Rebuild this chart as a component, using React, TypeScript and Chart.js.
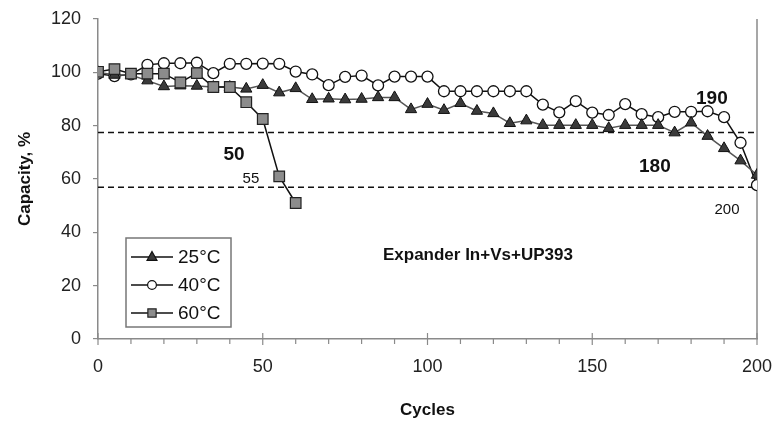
import React, { useEffect, useRef } from "react";
import { Chart, registerables } from "chart.js";

Chart.register(...registerables);

const cycles = [0, 5, 10, 15, 20, 25, 30, 35, 40, 45, 50, 55, 60, 65, 70, 75, 80, 85, 90, 95, 100, 105, 110, 115, 120, 125, 130, 135, 140, 145, 150, 155, 160, 165, 170, 175, 180, 185, 190, 195, 200];
const cap25 = [100, 99, 99, 96.9, 94.7, 95, 94.9, 94.5, 94.5, 93.8, 95.2, 92.4, 94, 89.9, 90.1, 89.8, 90, 90.6, 90.6, 86.1, 88.1, 85.8, 88.4, 85.5, 84.6, 80.9, 81.9, 80.2, 80.2, 80.2, 80.2, 79, 80.2, 80.2, 80.2, 77.4, 81.1, 76.1, 71.5, 66.9, 61.5];
const cap40 = [99.5, 98.6, 99.2, 102.8, 103.4, 103.4, 103.6, 99.7, 103.2, 103.2, 103.3, 103.2, 100.3, 99.2, 95.2, 98.3, 98.8, 95.1, 98.4, 98.4, 98.4, 92.9, 92.9, 92.9, 92.9, 92.9, 92.9, 87.9, 85, 89.2, 84.9, 84, 88.1, 84.3, 83.2, 85.2, 85.2, 85.4, 83.2, 73.6, 57.7];
const cycles60 = [0, 5, 10, 15, 20, 25, 30, 35, 40, 45, 50, 55, 60];
const cap60 = [100.2, 101.2, 99.5, 99.5, 99.5, 96.2, 99.7, 94.5, 94.5, 88.8, 82.5, 61, 51];
const thresholds = [77.4, 56.9];
const seriesLabels = ["25°C", "40°C", "60°C"];
const xTickLabels = [0, 50, 100, 150, 200];
const yTickLabels = [0, 20, 40, 60, 80, 100, 120];
const annotations = [
  { text: "50", x: 41.3, y: 69, bold: true, size: 19 },
  { text: "55", x: 46.4, y: 60, bold: false, size: 15 },
  { text: "190", x: 186.3, y: 90, bold: true, size: 19 },
  { text: "180", x: 169, y: 64.5, bold: true, size: 19 },
  { text: "200", x: 190.9, y: 48.4, bold: false, size: 15 },
  { text: "Expander In+Vs+UP393", x: 115.3, y: 31.5, bold: true, size: 17 },
];

const FONT = "'Liberation Sans', Arial, Helvetica, sans-serif";
const AXIS = "#8a8a8a";

const toXY = (xs: number[], ys: number[]) => xs.map((x, i) => ({ x, y: ys[i] }));

function drawMarker(ctx: CanvasRenderingContext2D, kind: string, x: number, y: number, r: number) {
  ctx.save();
  ctx.beginPath();
  if (kind === "tri") {
    ctx.fillStyle = "#3a3a3a";
    ctx.strokeStyle = "#111";
    ctx.moveTo(x, y - r);
    ctx.lineTo(x + r * 0.9, y + r * 0.6);
    ctx.lineTo(x - r * 0.9, y + r * 0.6);
    ctx.closePath();
  } else if (kind === "circ") {
    ctx.fillStyle = "#fff";
    ctx.strokeStyle = "#111";
    ctx.arc(x, y, r * 0.8, 0, Math.PI * 2);
  } else {
    ctx.fillStyle = "#8c8c8c";
    ctx.strokeStyle = "#222";
    ctx.rect(x - r * 0.75, y - r * 0.75, r * 1.5, r * 1.5);
  }
  ctx.lineWidth = 1.2;
  ctx.fill();
  ctx.stroke();
  ctx.restore();
}

const decorPlugin = {
  id: "decor",
  beforeDatasetsDraw(chart: any) {
    const { ctx, chartArea, scales } = chart;
    const xs = scales.x;
    ctx.save();
    ctx.strokeStyle = AXIS;
    ctx.lineWidth = 1.5;
    ctx.beginPath();
    ctx.moveTo(chartArea.right, chartArea.top);
    ctx.lineTo(chartArea.right, chartArea.bottom);
    ctx.stroke();
    ctx.lineWidth = 1.2;
    for (let c = 0; c <= 200; c += 10) {
      const px = xs.getPixelForValue(c);
      const major = c % 50 === 0;
      ctx.beginPath();
      ctx.moveTo(px, chartArea.bottom - (major ? 6 : 0));
      ctx.lineTo(px, chartArea.bottom + (major ? 6 : 5));
      ctx.stroke();
    }
    ctx.restore();
  },
  afterDatasetsDraw(chart: any) {
    const { ctx, scales } = chart;
    const xs = scales.x;
    const ys = scales.y;
    ctx.save();
    ctx.fillStyle = "#111";
    ctx.textAlign = "center";
    ctx.textBaseline = "middle";
    for (const a of annotations) {
      ctx.font = `${a.bold ? "bold " : ""}${a.size}px ${FONT}`;
      ctx.fillText(a.text, xs.getPixelForValue(a.x), ys.getPixelForValue(a.y));
    }
    const bx = 126, by = 238, bw = 105, bh = 89;
    ctx.fillStyle = "#fff";
    ctx.fillRect(bx, by, bw, bh);
    ctx.strokeStyle = "#777";
    ctx.lineWidth = 1.5;
    ctx.strokeRect(bx, by, bw, bh);
    const kinds = ["tri", "circ", "sq"];
    const rowsY = [257, 285, 313];
    ctx.textAlign = "left";
    ctx.font = `19px ${FONT}`;
    kinds.forEach((k, i) => {
      const yy = rowsY[i];
      ctx.strokeStyle = "#111";
      ctx.lineWidth = 1.5;
      ctx.beginPath();
      ctx.moveTo(131, yy);
      ctx.lineTo(173, yy);
      ctx.stroke();
      drawMarker(ctx, k, 152, yy, 5.5);
      ctx.fillStyle = "#111";
      ctx.fillText(seriesLabels[i], 178, yy + 1);
    });
    ctx.restore();
  },
};

export default function App() {
  const ref = useRef<HTMLCanvasElement>(null);
  useEffect(() => {
    if (!ref.current) return;
    const chart = new Chart(ref.current, {
      type: "line",
      data: {
        datasets: [
          {
            label: seriesLabels[2],
            data: toXY(cycles60, cap60),
            borderColor: "#111",
            borderWidth: 1.5,
            pointStyle: "rect",
            pointRadius: 7.5,
            pointBackgroundColor: "#8c8c8c",
            pointBorderColor: "#222",
            pointBorderWidth: 1.2,
            tension: 0,
            order: 0,
          },
          {
            label: seriesLabels[0],
            data: toXY(cycles, cap25),
            borderColor: "#555",
            borderWidth: 1.5,
            pointStyle: "triangle",
            pointRadius: 6.5,
            pointBackgroundColor: "#3a3a3a",
            pointBorderColor: "#111",
            pointBorderWidth: 1,
            tension: 0,
            order: 1,
          },
          {
            label: seriesLabels[1],
            data: toXY(cycles, cap40),
            borderColor: "#111",
            borderWidth: 1.5,
            pointStyle: "circle",
            pointRadius: 5.5,
            pointBackgroundColor: "#fff",
            pointBorderColor: "#111",
            pointBorderWidth: 1.3,
            tension: 0,
            order: 2,
          },
          ...thresholds.map((t, i) => ({
            label: "t" + i,
            data: [{ x: 0, y: t }, { x: 200, y: t }],
            borderColor: "#111",
            borderWidth: 1.5,
            borderDash: [6, 4],
            pointRadius: 0,
            order: 3,
          })),
        ],
      },
      options: {
        responsive: false,
        animation: false,
        events: [],
        layout: { padding: { top: 19, right: 16, left: 0, bottom: 0 } },
        plugins: { legend: { display: false }, tooltip: { enabled: false } },
        scales: {
          x: {
            type: "linear",
            min: 0,
            max: 200,
            afterBuildTicks: (s: any) => { s.ticks = xTickLabels.map((v) => ({ value: v })); },
            afterFit: (s: any) => { s.height = 87; s.paddingLeft = 0; s.paddingRight = 0; },
            grid: { display: false, drawTicks: true, tickLength: 6 },
            border: { display: true, color: AXIS, width: 1.5 },
            ticks: { font: { family: FONT, size: 18 }, color: "#222", padding: 11, maxRotation: 0 },
            title: { display: true, text: "Cycles", font: { family: FONT, size: 17, weight: "bold" }, color: "#111", padding: { top: 0, bottom: 5 } },
          },
          y: {
            min: 0,
            max: 120,
            afterBuildTicks: (s: any) => { s.ticks = yTickLabels.map((v) => ({ value: v })); },
            afterFit: (s: any) => { s.width = 98; s.paddingTop = 0; s.paddingBottom = 0; },
            grid: { drawOnChartArea: false, color: AXIS, lineWidth: 1.2, tickLength: 5 },
            border: { display: true, color: AXIS, width: 1.5 },
            ticks: { font: { family: FONT, size: 18 }, color: "#222", padding: 12 },
            title: { display: true, text: "Capacity, %", font: { family: FONT, size: 17, weight: "bold" }, color: "#111", padding: { top: 15, bottom: 0 } },
          },
        },
      },
      plugins: [decorPlugin],
    } as any);
    return () => chart.destroy();
  }, []);
  return (
    <canvas
      ref={ref}
      width={773}
      height={426}
      style={{ position: "absolute", left: 0, top: 0, display: "block" }}
    />
  );
}
